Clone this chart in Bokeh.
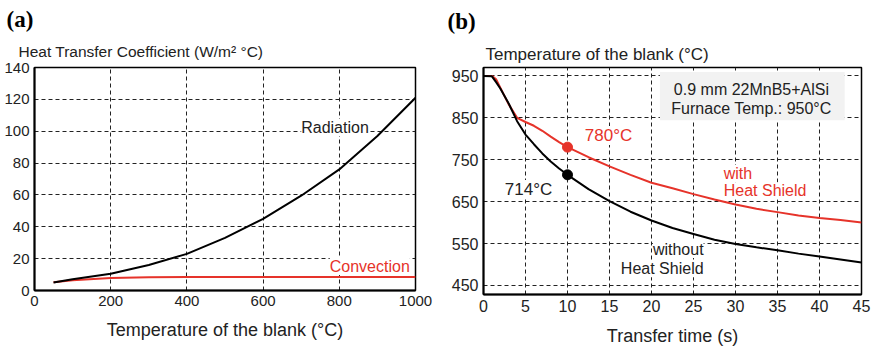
from bokeh.plotting import figure
from bokeh.layouts import row
from bokeh.models import Range1d, Label, FixedTicker, Title
from bokeh.embed import file_html
from bokeh.resources import INLINE

# ---------------- data ----------------
# (a) heat transfer coefficient vs blank temperature
temp_a = [50, 100, 200, 300, 400, 500, 600, 700, 800, 900, 1000]
radiation = [5, 7, 10.5, 16, 23, 33, 45, 59.5, 76, 97, 121]
convection = [5.2, 6.5, 7.8, 8.3, 8.4, 8.4, 8.4, 8.4, 8.4, 8.4, 8.4]
ticks_a_x = [0, 200, 400, 600, 800, 1000]
ticks_a_y = [0, 20, 40, 60, 80, 100, 120, 140]

# (b) blank temperature vs transfer time
time_b = [0, 1, 1.5, 2, 3, 4, 5, 6, 7, 8, 9, 10,
          12.5, 15, 17.5, 20, 22.5, 25, 27.5, 30, 32.5, 35, 37.5, 40, 42.5, 45]
with_shield = [950, 950, 942, 922, 882, 850, 840, 831, 819, 805, 792, 780,
               756, 734, 714, 695, 682, 668, 655, 643, 633, 625, 617, 611, 606, 600]
without_shield = [950, 949, 935, 920, 884, 842, 810, 787, 765, 746, 729, 714,
                  680, 651, 626, 605, 587, 573, 559, 549, 541, 534, 526, 519, 512, 505]
marker_t = [10]
marker_with = [780]
marker_without = [714]
ticks_b_x = [0, 5, 10, 15, 20, 25, 30, 35, 40, 45]
ticks_b_y = [450, 550, 650, 750, 850, 950]

RED = "#e6332a"
FONT = "Liberation Sans"
SERIF = "Liberation Serif"
TXT = "#222222"


def style(p, tick_size):
    p.outline_line_color = "black"
    p.outline_line_width = 1.5
    p.background_fill_color = "white"
    p.border_fill_color = "white"
    for ax in (p.xaxis, p.yaxis):
        ax.axis_line_width = 2
        ax.axis_line_color = "black"
        ax.major_tick_in = 0
        ax.major_tick_out = 0
        ax.minor_tick_in = 0
        ax.minor_tick_out = 0
        ax.major_label_text_font = FONT
        ax.major_label_text_font_size = tick_size
        ax.major_label_text_color = TXT
        ax.major_label_standoff = 5
        ax.axis_label_text_font = FONT
        ax.axis_label_text_font_style = "normal"
        ax.axis_label_text_color = TXT
    for g in (p.xgrid, p.ygrid):
        g.grid_line_color = "#222222"
        g.grid_line_dash = "4 3"
        g.grid_line_width = 1


def lab(p, x, y, text, size, color=TXT, align="left", bg=True):
    l = Label(x=x, y=y, text=text, text_font=FONT, text_font_size=size,
              text_color=color, text_align=align, text_baseline="middle")
    if bg:
        l.background_fill_color = "white"
        l.background_fill_alpha = 1.0
    p.add_layout(l)


def titles(p, ytitle, ysize, yoffset, ystandoff, tag, toffset, tstandoff):
    p.add_layout(Title(text=ytitle, text_font=FONT, text_font_size=ysize,
                       text_font_style="normal", text_color=TXT, align="left",
                       offset=yoffset, standoff=ystandoff), "above")
    p.add_layout(Title(text=tag, text_font=SERIF, text_font_size="23px",
                       text_font_style="bold", text_color="black", align="left",
                       offset=toffset, standoff=tstandoff), "above")


# ---------------- panel (a) ----------------
pa = figure(frame_width=381, frame_height=223, output_backend="svg", toolbar_location=None,
            x_range=Range1d(0, 1000), y_range=Range1d(0, 140),
            min_border_left=34, min_border_right=25, min_border_top=66, min_border_bottom=59)
style(pa, "15px")
pa.xaxis.ticker = FixedTicker(ticks=ticks_a_x)
pa.yaxis.ticker = FixedTicker(ticks=ticks_a_y)
pa.xaxis.axis_label = "Temperature of the blank (°C)"
pa.xaxis.axis_label_text_font_size = "18px"
pa.xaxis.axis_label_standoff = 11
titles(pa, "Heat Transfer Coefficient (W/m² °C)", "15.5px", -16, 16, "(a)", -28, 1)

pa.line(temp_a, convection, line_color=RED, line_width=2)
pa.line(temp_a, radiation, line_color="black", line_width=2)

lab(pa, 700, 102.3, "Radiation", "16px")
lab(pa, 985, 15.1, "Convection", "16px", color=RED, align="right")

# ---------------- panel (b) ----------------
pb = figure(frame_width=378, frame_height=227, output_backend="svg", toolbar_location=None,
            x_range=Range1d(0, 45), y_range=Range1d(428.5, 970),
            min_border_left=43, min_border_right=13, min_border_top=67, min_border_bottom=54)
style(pb, "16px")
pb.xaxis.ticker = FixedTicker(ticks=ticks_b_x)
pb.yaxis.ticker = FixedTicker(ticks=ticks_b_y)
pb.xaxis.axis_label = "Transfer time (s)"
pb.xaxis.axis_label_text_font_size = "18px"
pb.xaxis.axis_label_standoff = 11
titles(pb, "Temperature of the blank (°C)", "17px", 2, 7, "(b)", -36, 11)

pb.quad(left=[21], right=[43], bottom=[844], top=[959], fill_color="#f2f2f2", line_color=None)
pb.line(time_b, with_shield, line_color=RED, line_width=2)
pb.line(time_b, without_shield, line_color="black", line_width=2)
pb.scatter(marker_t, marker_with, size=10, fill_color=RED, line_color=RED)
pb.scatter(marker_t, marker_without, size=10, fill_color="black", line_color="black")

lab(pb, 31.9, 916.6, "0.9 mm 22MnB5+AlSi", "16px", align="center", bg=False)
lab(pb, 31.9, 873, "Furnace Temp.: 950°C", "16px", align="center", bg=False)
lab(pb, 12.06, 808, "780°C", "17px", color=RED)
lab(pb, 2.54, 679, "714°C", "17px")
lab(pb, 28.6, 717, "with", "16px", color=RED)
lab(pb, 28.6, 676, "Heat Shield", "16px", color=RED)
lab(pb, 26.2, 536, "without", "16px", align="right")
lab(pb, 26.2, 490, "Heat Shield", "16px", align="right")

layout = row(pa, pb)
open("out.html", "w").write(file_html(layout, INLINE))
